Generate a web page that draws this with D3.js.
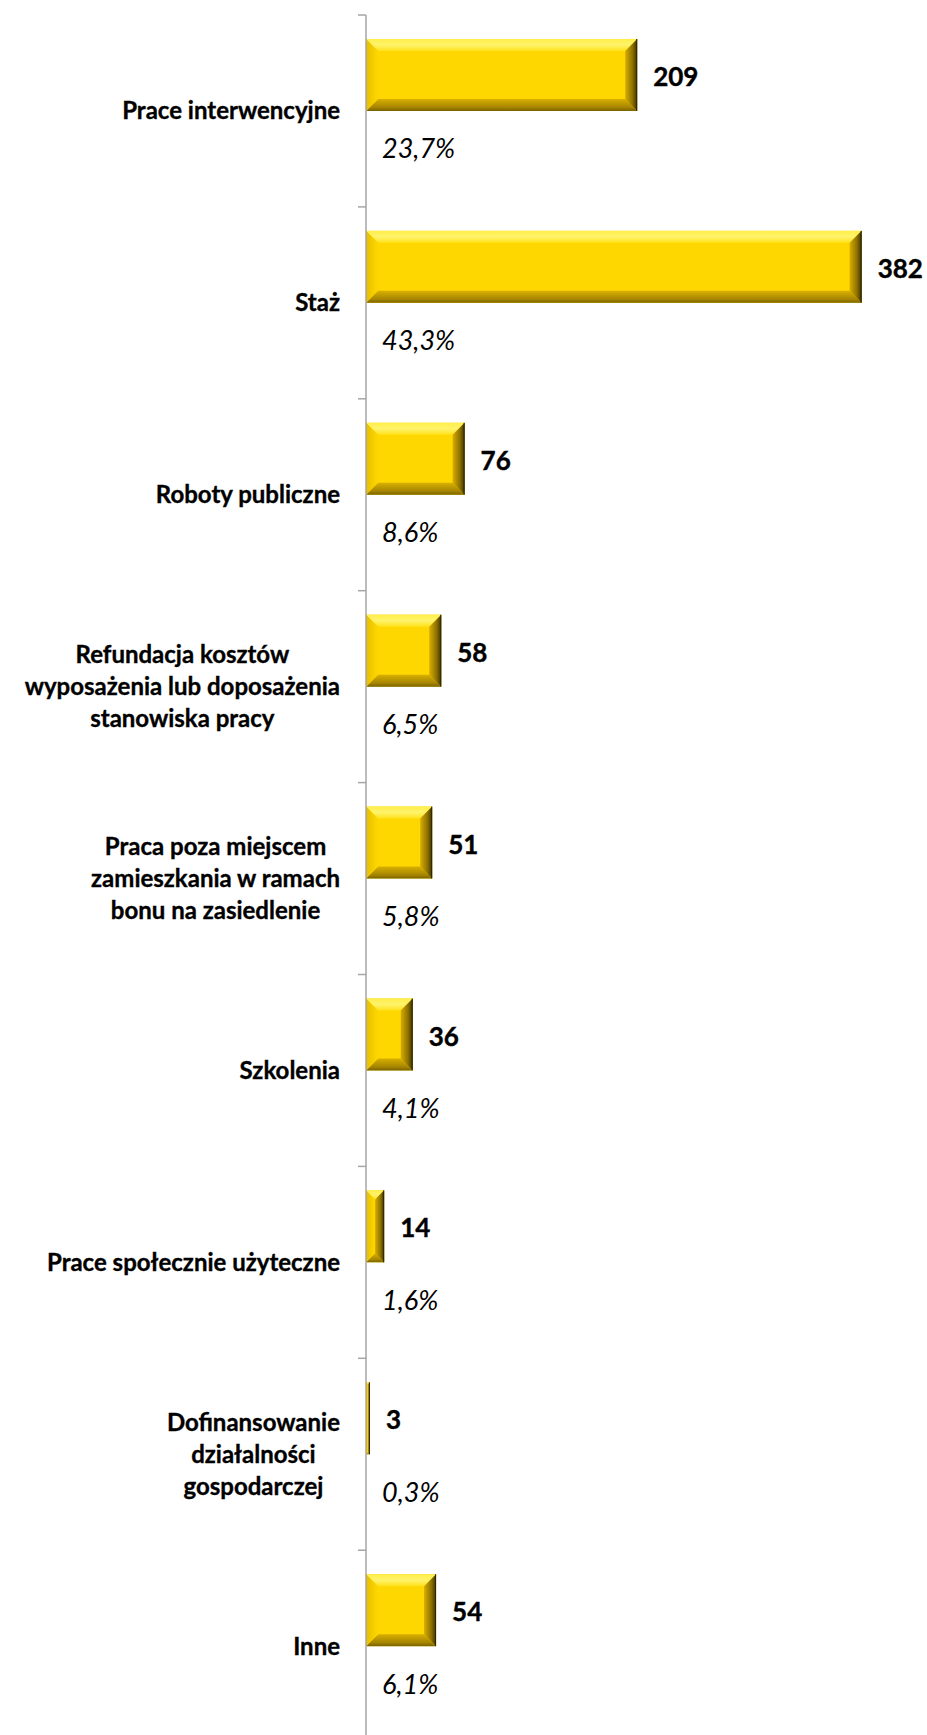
<!DOCTYPE html>
<html>
<head>
<meta charset="utf-8">
<script src="https://cdn.jsdelivr.net/npm/d3@7"></script>
<style>
  html, body { margin: 0; padding: 0; background: #fff; }
  svg { display: block; }
</style>
</head>
<body>
<div id="chart"></div>
<script>
/* ── Data ────────────────────────────────────────────────────────────── */
const CATEGORIES = [
  'Prace interwencyjne',
  'Staż',
  'Roboty publiczne',
  'Refundacja kosztów|wyposażenia lub doposażenia|stanowiska pracy',
  'Praca poza miejscem|zamieszkania w ramach|bonu na zasiedlenie',
  'Szkolenia',
  'Prace społecznie użyteczne',
  'Dofinansowanie|działalności|gospodarczej',
  'Inne',
];
const COUNTS   = [209, 382, 76, 58, 51, 36, 14, 3, 54];
const PERCENTS = [23.7, 43.3, 8.6, 6.5, 5.8, 4.1, 1.6, 0.3, 6.1];
const SERIES   = ['count', 'pct'];
const X_DOMAIN = [0, 400];

/* ── Layout constants ────────────────────────────────────────────────── */
const W = 927, H = 1735;
const AXIS_X   = 366;
const TOP_Y    = 15;
const BAND_H   = 191.9;
const BEVEL    = 12;
const FONT     = 'Lato, "Open Sans", sans-serif';

const svg = d3.select('#chart').append('svg')
  .attr('width', W).attr('height', H)
  .attr('viewBox', `0 0 ${W} ${H}`);

/* ── Scales ──────────────────────────────────────────────────────────── */
const x = d3.scaleLinear().domain(X_DOMAIN).range([AXIS_X, 885]);
const y = d3.scaleBand()
  .domain(CATEGORIES)
  .range([TOP_Y, TOP_Y + CATEGORIES.length * BAND_H])
  .padding(0);
const ySub = d3.scaleBand()
  .domain(SERIES)
  .range([0, y.bandwidth()])
  .paddingInner(0)
  .paddingOuter(0.333);

/* ── Gradients for the bevel faces ───────────────────────────────────── */
const defs = svg.append('defs');
function grad(id, dir, stops) {
  const g = defs.append('linearGradient').attr('id', id)
    .attr('x1', 0).attr('y1', 0)
    .attr('x2', dir === 'h' ? 1 : 0).attr('y2', dir === 'v' ? 1 : 0);
  stops.forEach(([o, c]) => g.append('stop').attr('offset', o).attr('stop-color', c));
}
grad('bv-top',    'v', [[0, '#FFEE4A'], [0.5, '#FFF36B'], [1, '#FFE11A']]);
grad('bv-bottom', 'v', [[0, '#D9B000'], [0.7, '#A68500'], [1, '#7A6200']]);
grad('bv-left',   'h', [[0, '#E6BE00'], [1, '#FFD800']]);
grad('bv-right',  'h', [[0, '#D8AE00'], [0.6, '#8F7200'], [1, '#3E3300']]);

/* ── Bars (count series, bevelled) ───────────────────────────────────── */
const barG = svg.append('g').attr('class', 'bars');

CATEGORIES.forEach((cat, i) => {
  const x0 = x(0), x1 = x(COUNTS[i]);
  const y0 = y(cat) + ySub('count');
  const y1 = y0 + ySub.bandwidth();
  const b  = Math.min(BEVEL, (x1 - x0) / 2, (y1 - y0) / 2);
  const g  = barG.append('g');

  const poly = (pts, fill) => g.append('polygon')
    .attr('points', pts.map(p => p.join(',')).join(' '))
    .attr('fill', fill);

  g.append('rect')
    .attr('x', x0).attr('y', y0)
    .attr('width', x1 - x0).attr('height', y1 - y0)
    .attr('fill', '#FFD700');

  poly([[x0, y0], [x1, y0], [x1 - b, y0 + b], [x0 + b, y0 + b]], 'url(#bv-top)');
  poly([[x0, y1], [x1, y1], [x1 - b, y1 - b], [x0 + b, y1 - b]], 'url(#bv-bottom)');
  poly([[x0, y0], [x0 + b, y0 + b], [x0 + b, y1 - b], [x0, y1]], 'url(#bv-left)');
  poly([[x1, y0], [x1 - b, y0 + b], [x1 - b, y1 - b], [x1, y1]], 'url(#bv-right)');

  g.append('line')
    .attr('x1', x1 - 0.5).attr('x2', x1 - 0.5)
    .attr('y1', y0).attr('y2', y1)
    .attr('stroke', '#2e2600').attr('stroke-width', 1);
});

/* ── Axis (category, left) ───────────────────────────────────────────── */
const axisG = svg.append('g').attr('class', 'axis');
axisG.append('line')
  .attr('x1', AXIS_X).attr('x2', AXIS_X)
  .attr('y1', TOP_Y).attr('y2', y.range()[1])
  .attr('stroke', '#A6A6A6').attr('stroke-width', 1.5);

d3.range(CATEGORIES.length + 1).forEach(k => {
  const ty = k < CATEGORIES.length ? y(CATEGORIES[k]) : y.range()[1];
  axisG.append('line')
    .attr('x1', AXIS_X - 8).attr('x2', AXIS_X)
    .attr('y1', ty).attr('y2', ty)
    .attr('stroke', '#A6A6A6').attr('stroke-width', 1.5);
});

/* ── Category labels (right aligned block, centred lines) ────────────── */
const LINE_H = 32;
const labelG = svg.append('g').attr('class', 'cat-labels');

CATEGORIES.forEach(cat => {
  const lines = cat.split('|');
  const cy = y(cat) + y.bandwidth() / 2;
  const t = labelG.append('text')
    .attr('font-family', FONT)
    .attr('font-weight', 'bold')
    .attr('font-size', '24px')
    .attr('fill', '#000')
    .attr('stroke', '#000').attr('stroke-width', 0.35)
    .attr('text-anchor', 'middle');

  lines.forEach((ln, j) => {
    t.append('tspan')
      .attr('y', cy + (j - (lines.length - 1) / 2) * LINE_H)
      .attr('dy', '0.35em')
      .text(ln);
  });

  // block is right-aligned at x=340, lines centred inside it
  const spans = t.selectAll('tspan').nodes();
  const blockW = d3.max(spans, s => s.getComputedTextLength());
  t.selectAll('tspan').attr('x', 340 - blockW / 2);
});

/* ── Value labels (count) ────────────────────────────────────────────── */
CATEGORIES.forEach((cat, i) => {
  svg.append('text')
    .attr('x', x(COUNTS[i]) + 16)
    .attr('y', y(cat) + ySub('count') + ySub.bandwidth() / 2 + 2)
    .attr('dy', '0.35em')
    .attr('font-family', FONT)
    .attr('font-weight', 'bold')
    .attr('font-size', '26px')
    .attr('fill', '#000')
    .attr('stroke', '#000').attr('stroke-width', 0.4)
    .text(COUNTS[i]);
});

/* ── Percent labels (second series, italic) ──────────────────────────── */
const fmtPct = v => v.toFixed(1).replace('.', ',') + '%';
CATEGORIES.forEach((cat, i) => {
  svg.append('text')
    .attr('x', x(0) + 16)
    .attr('y', y(cat) + ySub('pct') + ySub.bandwidth() / 2 + 2)
    .attr('dy', '0.35em')
    .attr('font-family', FONT)
    .attr('font-style', 'italic')
    .attr('font-size', '27px')
    .attr('fill', '#000')
    .text(fmtPct(PERCENTS[i]));
});
</script>
</body>
</html>
